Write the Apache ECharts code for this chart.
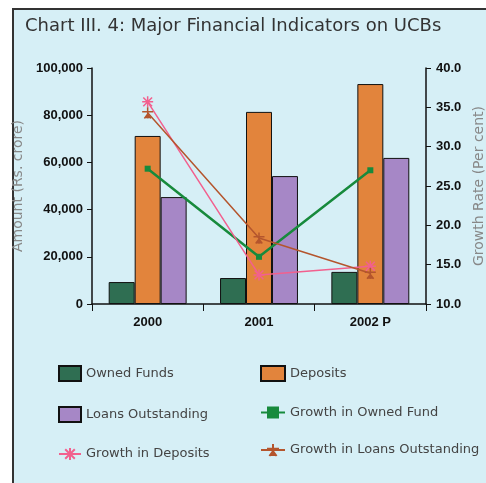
<!DOCTYPE html>
<html>
<head>
<meta charset="utf-8">
<script src="https://cdn.jsdelivr.net/npm/echarts@6/dist/echarts.min.js"></script>
<style>
  body { margin: 0; background: #fff; }
  .frame {
    position: absolute; left: 12px; top: 8px; width: 490px; height: 490px;
    background: #d6eff6; border: 2px solid #333; box-sizing: border-box;
  }
  #chart { position: absolute; left: 0; top: 0; width: 486px; height: 483px; }
</style>
</head>
<body>
<div class="frame"></div>
<div id="chart"></div>
<script>
// data
const years = ["2000", "2001", "2002 P"];
const ownedFunds = [9300, 11000, 13600];
const deposits = [71200, 81400, 93200];
const loansOutstanding = [45300, 54200, 61900];
const growthOwned = [27.2, 16.0, 27.0];
const growthDeposits = [35.7, 13.7, 14.8];
const growthLoans = [34.3, 18.4, 13.9];

const chart = echarts.init(document.getElementById("chart"), null, { renderer: "canvas" });

const boldLabel = { color: "#111", fontWeight: "bold", fontSize: 13, fontFamily: "Liberation Sans" };
const asterisk = "path://M0,5L10,5M5,0L5,10M1,1L9,9M9,1L1,9";
const starish = "path://M5,0L5,10M0,4L10,4M2,10L5,6L8,10";
const legendText = { color: "#444", fontSize: 13, fontFamily: "DejaVu Sans" };

chart.setOption({
  backgroundColor: "transparent",
  textStyle: { fontFamily: "Liberation Sans" },
  title: {
    text: "Chart III. 4: Major Financial Indicators on UCBs",
    left: 25, top: 17, padding: 0,
    textStyle: { fontSize: 18, fontWeight: "normal", color: "#333", fontFamily: "DejaVu Sans" }
  },
  grid: { left: 92, right: 60, top: 68, bottom: 179, outerBoundsMode: "none" },
  legend: [
    {
      orient: "vertical", left: 53, top: 360, itemGap: 24,
      itemWidth: 22, itemHeight: 15,
      textStyle: legendText,
      data: [
        { name: "Owned Funds", icon: "rect" },
        { name: "Loans Outstanding", icon: "rect" },
        "Growth in Deposits"
      ]
    },
    {
      orient: "vertical", left: 255, top: 360, itemGap: 24,
      itemWidth: 24, itemHeight: 15,
      textStyle: legendText,
      data: [
        { name: "Deposits", icon: "rect" },
        "Growth in Owned Fund",
        "Growth in Loans Outstanding"
      ]
    }
  ],
  xAxis: {
    type: "category",
    data: years,
    axisLine: { lineStyle: { color: "#111", width: 1.5 } },
    axisTick: { show: true, length: 7, lineStyle: { color: "#111" } },
    axisLabel: Object.assign({ margin: 12 }, boldLabel)
  },
  yAxis: [
    {
      type: "value", min: 0, max: 100000, interval: 20000,
      name: "Amount (Rs. crore)", nameLocation: "middle", nameGap: 60,
      nameTextStyle: { color: "#888", fontSize: 14, fontFamily: "DejaVu Sans" },
      axisLine: { show: true, lineStyle: { color: "#111", width: 1.5 } },
      axisTick: { show: true, length: 5, lineStyle: { color: "#111" } },
      splitLine: { show: false },
      axisLabel: Object.assign({ margin: 9, formatter: v => v.toLocaleString("en-US") }, boldLabel)
    },
    {
      type: "value", min: 10, max: 40, interval: 5,
      name: "Growth Rate (Per cent)", nameLocation: "middle", nameGap: 42,
      nameRotate: 90,
      nameTextStyle: { color: "#888", fontSize: 14, fontFamily: "DejaVu Sans" },
      axisLine: { show: true, lineStyle: { color: "#111", width: 1.5 } },
      axisTick: { show: true, length: 5, lineStyle: { color: "#111" } },
      splitLine: { show: false },
      axisLabel: Object.assign({ margin: 10, formatter: v => v.toFixed(1) }, boldLabel)
    }
  ],
  series: [
    {
      name: "Owned Funds", type: "bar", data: ownedFunds,
      barGap: "0%", barCategoryGap: "30%",
      itemStyle: { color: "#2f6e52", borderColor: "#111", borderWidth: 1 }
    },
    {
      name: "Deposits", type: "bar", data: deposits,
      itemStyle: { color: "#e2843c", borderColor: "#111", borderWidth: 1 }
    },
    {
      name: "Loans Outstanding", type: "bar", data: loansOutstanding,
      itemStyle: { color: "#a687c6", borderColor: "#111", borderWidth: 1 }
    },
    {
      name: "Growth in Owned Fund", type: "line", yAxisIndex: 1, data: growthOwned,
      symbol: "rect", symbolSize: 6,
      lineStyle: { color: "#178a3c", width: 2.5 },
      itemStyle: { color: "#178a3c" }
    },
    {
      name: "Growth in Deposits", type: "line", yAxisIndex: 1, data: growthDeposits,
      symbol: asterisk, symbolSize: 11,
      lineStyle: { color: "#f2608e", width: 1.5 },
      itemStyle: { color: "#f2608e", borderColor: "#f2608e", borderWidth: 1.5 }
    },
    {
      name: "Growth in Loans Outstanding", type: "line", yAxisIndex: 1, data: growthLoans,
      symbol: starish, symbolSize: 11,
      lineStyle: { color: "#b4552d", width: 1.5 },
      itemStyle: { color: "#b4552d", borderColor: "#b4552d", borderWidth: 1.5 }
    }
  ]
});
</script>
</body>
</html>
